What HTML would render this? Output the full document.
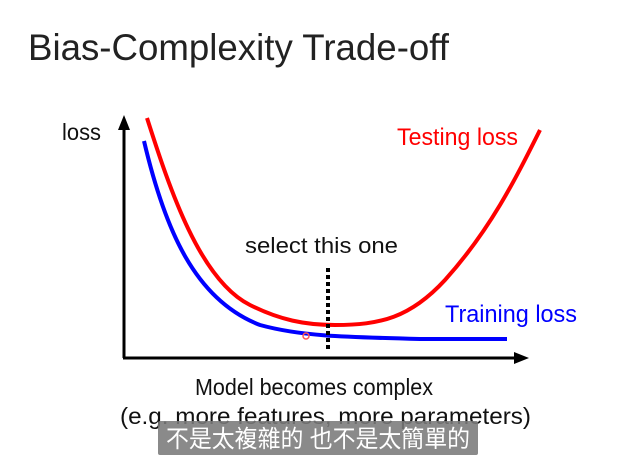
<!DOCTYPE html>
<html><head><meta charset="utf-8"><style>
body{margin:0;width:630px;height:466px;background:#fff;overflow:hidden;position:relative;font-family:"Liberation Sans","Noto Sans CJK TC",sans-serif}
</style></head><body>
<svg width="630" height="466" style="position:absolute;left:0;top:0" font-family="Liberation Sans, Noto Sans CJK TC, sans-serif">
<text x="28" y="60" font-size="37" fill="#222" textLength="421" lengthAdjust="spacingAndGlyphs">Bias-Complexity Trade-off</text>
<text x="62" y="140" font-size="23" fill="#111" textLength="39" lengthAdjust="spacingAndGlyphs">loss</text>
<line x1="124" y1="358" x2="124" y2="128" stroke="#000" stroke-width="3"/>
<polygon points="124,115 118,130 130,130" fill="#000"/>
<line x1="123" y1="358" x2="516" y2="358" stroke="#000" stroke-width="3"/>
<polygon points="529,358 514,352 514,364" fill="#000"/>
<path d="M147,118 C170,190 200,280 250,305 C280,320 305,325 335,325 C380,325 410,318 445,280 C490,230 515,180 540,130" fill="none" stroke="#f00" stroke-width="4"/>
<path d="M144,141 C165,230 195,300 260,325 C300,336 340,337 420,339 L507,339" fill="none" stroke="#00f" stroke-width="4"/>
<line x1="328" y1="268" x2="328" y2="352" stroke="#000" stroke-width="4" stroke-dasharray="4,3"/>
<circle cx="306" cy="336" r="3" fill="none" stroke="#f55" stroke-width="1.5"/>
<text x="245" y="253" font-size="22" fill="#111" textLength="153" lengthAdjust="spacingAndGlyphs">select this one</text>
<text x="397" y="145" font-size="24" fill="#f00" textLength="121" lengthAdjust="spacingAndGlyphs">Testing loss</text>
<text x="445" y="322" font-size="24" fill="#00f" textLength="132" lengthAdjust="spacingAndGlyphs">Training loss</text>
<text x="195" y="395" font-size="23" fill="#111" textLength="238" lengthAdjust="spacingAndGlyphs">Model becomes complex</text>
<text x="120" y="424" font-size="23" fill="#111" textLength="411" lengthAdjust="spacingAndGlyphs">(e.g. more features, more parameters)</text>
<rect x="158" y="421" width="320" height="34" rx="2" fill="#7a7a7a" fill-opacity="0.88"/>
<text x="166" y="447" font-size="24" fill="#fff" textLength="304" lengthAdjust="spacingAndGlyphs">不是太複雜的 也不是太簡單的</text>
</svg>
</body></html>
